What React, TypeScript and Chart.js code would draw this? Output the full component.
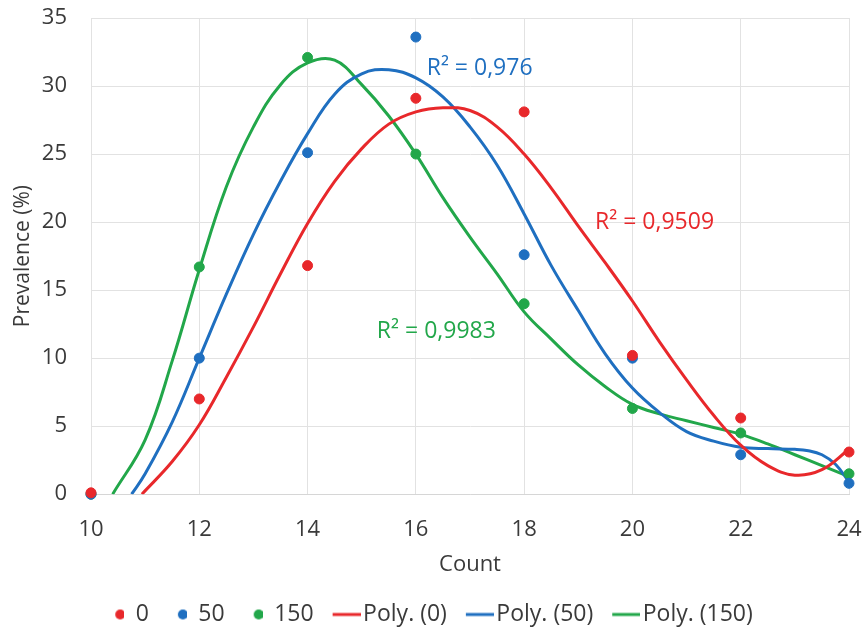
import React, { useEffect, useRef } from "react";
import { Chart, registerables } from "chart.js";

Chart.register(...registerables);

// Measured data points
const countX = [10, 12, 14, 16, 18, 20, 22, 24];
const series0 = [0.1, 7.0, 16.8, 29.1, 28.1, 10.2, 5.6, 3.1];
const series50 = [0, 10.0, 25.1, 33.6, 17.6, 10.0, 2.9, 0.8];
const series150 = [0, 16.7, 32.1, 25.0, 14.0, 6.3, 4.5, 1.5];

// Trend lines (x, y samples)
const poly0X = [10.94, 11.5, 12, 12.5, 13, 13.5, 14, 14.5, 15, 15.5, 16, 16.5, 17, 17.5, 18, 18.5, 19, 19.5, 20, 20.5, 21, 21.5, 22, 22.5, 23, 23.5, 24];
const poly0Y = [0, 2.4, 5.1, 8.6, 12.3, 16.2, 19.9, 23.0, 25.4, 27.2, 28.1, 28.4, 28.2, 27.0, 25.0, 22.5, 19.7, 17.0, 14.2, 11.2, 8.4, 5.8, 3.6, 2.1, 1.4, 1.8, 3.3];
const poly50X = [10.75, 11, 11.5, 12, 12.5, 13, 13.5, 14, 14.5, 15, 15.5, 16, 16.5, 17, 17.5, 18, 18.5, 19, 19.5, 20, 20.5, 21, 21.5, 22, 22.5, 23, 23.25, 23.5, 23.75, 24];
const poly50Y = [0, 1.5, 5.3, 10.0, 14.7, 19.1, 23.0, 26.5, 29.4, 30.9, 31.2, 30.6, 29.2, 27.0, 24.2, 20.6, 16.8, 13.5, 10.3, 7.8, 6.0, 4.6, 3.9, 3.45, 3.35, 3.3, 3.2, 2.9, 2.2, 0.9];
const poly150X = [10.4, 11, 11.5, 12, 12.5, 13, 13.5, 14, 14.5, 15, 15.5, 16, 16.5, 17, 17.5, 18, 18.5, 19, 19.5, 20, 20.5, 21, 21.5, 22, 22.5, 23, 23.5, 24];
const poly150Y = [0, 4.0, 9.8, 16.5, 22.6, 27.0, 30.1, 31.7, 31.9, 30.1, 27.8, 25.0, 21.8, 18.9, 16.2, 13.4, 11.4, 9.5, 7.9, 6.6, 5.9, 5.4, 4.9, 4.4, 3.7, 2.9, 2.1, 1.3];

const seriesNames = ["0", "50", "150"];
const trendNames = ["Poly. (0)", "Poly. (50)", "Poly. (150)"];
const xTicks = [10, 12, 14, 16, 18, 20, 22, 24];
const yTicks = [0, 5, 10, 15, 20, 25, 30, 35];

const r2Texts = ["R² = 0,976", "R² = 0,9509", "R² = 0,9983"];
const r2AnchorX = [16.2, 19.31, 15.28];
const r2AnchorY = [31.3, 19.94, 11.96];

const RED = "#e8282b";
const BLUE = "#1f6fc0";
const GREEN = "#22a74a";
const r2Colors = [BLUE, RED, GREEN];
const FONT = '"Open Sans", sans-serif';
const TEXT = "#3a3a3a";

const pts = (xs: number[], ys: number[]) => xs.map((x, i) => ({ x, y: ys[i] }));

export default function App() {
  const ref = useRef<HTMLCanvasElement | null>(null);

  useEffect(() => {
    document.body.style.margin = "0";
    const canvas = ref.current;
    if (!canvas) return;

    const makeDot = (color: string) => {
      const c = document.createElement("canvas");
      c.width = 28;
      c.height = 12;
      const g = c.getContext("2d")!;
      g.fillStyle = color;
      g.beginPath();
      g.arc(24, 6, 5, 0, Math.PI * 2);
      g.fill();
      return c;
    };
    const makeLine = (color: string) => {
      const c = document.createElement("canvas");
      c.width = 46;
      c.height = 6;
      const g = c.getContext("2d")!;
      g.strokeStyle = color;
      g.lineWidth = 3;
      g.beginPath();
      g.moveTo(18, 3);
      g.lineTo(46, 3);
      g.stroke();
      return c;
    };
    const legendIcons = [
      makeDot(RED), makeDot(BLUE), makeDot(GREEN),
      makeLine(RED), makeLine(BLUE), makeLine(GREEN),
    ];

    const r2Plugin = {
      id: "r2labels",
      afterDatasetsDraw(chart: any) {
        const { ctx, scales } = chart;
        ctx.save();
        ctx.font = `23px ${FONT}`;
        ctx.textAlign = "left";
        ctx.textBaseline = "middle";
        r2Texts.forEach((t, i) => {
          ctx.fillStyle = r2Colors[i];
          ctx.fillText(t, scales.x.getPixelForValue(r2AnchorX[i]), scales.y.getPixelForValue(r2AnchorY[i]));
        });
        ctx.restore();
      },
    };

    const colors = [RED, BLUE, GREEN];
    const scatterData = [series0, series50, series150];
    const polyData = [pts(poly0X, poly0Y), pts(poly50X, poly50Y), pts(poly150X, poly150Y)];

    const datasets: any[] = [];
    scatterData.forEach((s, i) => {
      datasets.push({
        type: "scatter",
        label: seriesNames[i],
        data: pts(countX, s),
        backgroundColor: colors[i],
        borderColor: colors[i],
        pointRadius: 5,
        pointHoverRadius: 5,
        showLine: false,
        clip: false,
      });
    });
    polyData.forEach((d, i) => {
      datasets.push({
        type: "line",
        label: trendNames[i],
        data: d,
        borderColor: colors[i],
        backgroundColor: colors[i],
        borderWidth: 3,
        pointRadius: 0,
        tension: 0.4,
        fill: false,
      });
    });

    const chart = new Chart(canvas, {
      type: "scatter",
      data: { datasets },
      plugins: [r2Plugin],
      options: {
        animation: false,
        responsive: false,
        events: [],
        layout: { padding: { top: 18, right: 15, left: 0, bottom: -7 } },
        plugins: {
          tooltip: { enabled: false },
          legend: {
            position: "bottom",
            labels: {
              usePointStyle: true,
              pointStyleWidth: 28,
              boxHeight: 12,
              padding: 10,
              color: TEXT,
              font: { family: FONT, size: 23 },
              generateLabels: (ch: any) => {
                const base = Chart.defaults.plugins.legend.labels.generateLabels(ch);
                return base.map((l: any, i: number) => ({ ...l, pointStyle: legendIcons[i], lineWidth: 0 }));
              },
            },
          },
        },
        scales: {
          x: {
            type: "linear",
            min: 10,
            max: 24,
            afterBuildTicks: (s: any) => { s.ticks = xTicks.map((v) => ({ value: v })); },
            afterFit: (s: any) => { s.paddingLeft = 0; s.paddingRight = 0; },
            ticks: { color: TEXT, font: { family: FONT, size: 22 }, padding: 22 },
            grid: { color: "#e2e2e2", drawTicks: false },
            border: { color: "#d6d6d6" },
            title: { display: true, text: "Count", color: TEXT, font: { family: FONT, size: 22 }, padding: { top: -13, bottom: 15 } },
          },
          y: {
            type: "linear",
            min: 0,
            max: 35,
            afterBuildTicks: (s: any) => { s.ticks = yTicks.map((v) => ({ value: v })); },
            afterFit: (s: any) => { s.width = 91; s.paddingTop = 0; s.paddingBottom = 0; },
            ticks: { color: TEXT, font: { family: FONT, size: 22 }, padding: 24 },
            grid: { color: "#e2e2e2", drawTicks: false },
            border: { color: "#e2e2e2" },
            title: { display: true, text: "Prevalence (%)", color: TEXT, font: { family: FONT, size: 21 }, padding: { top: 10, bottom: 0 } },
          },
        },
      } as any,
    });
    return () => chart.destroy();
  }, []);

  return (
    <div style={{ width: 864, height: 629, background: "#fff" }}>
      <canvas ref={ref} width={864} height={629} style={{ display: "block" }} />
    </div>
  );
}
